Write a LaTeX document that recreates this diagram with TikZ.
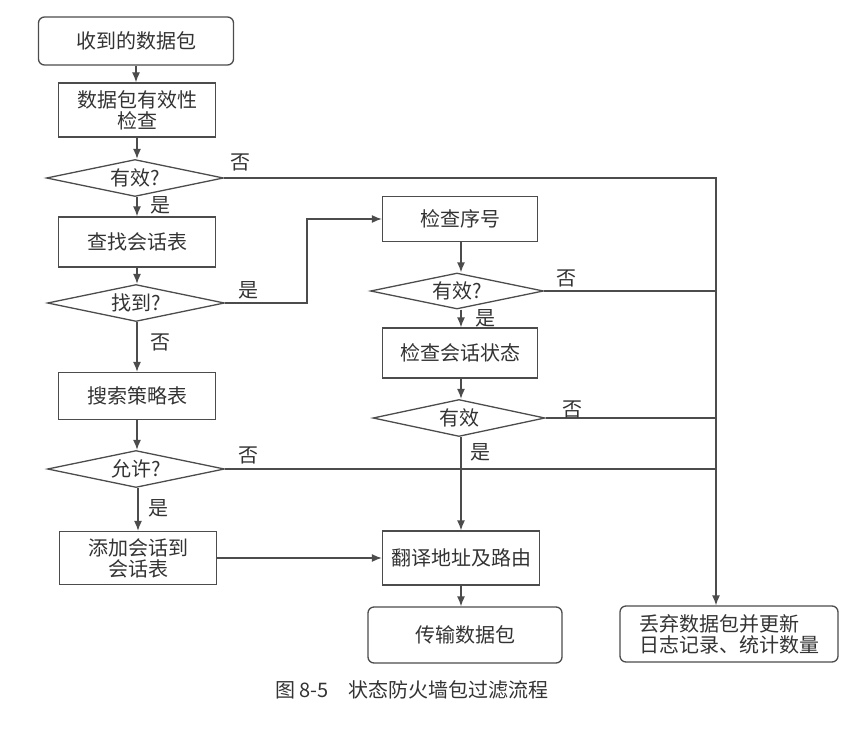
\documentclass[tikz,border=0pt]{standalone}
\usepackage{fontspec}
\setmainfont{Noto Sans CJK SC}
\usepackage{tikz}
\usetikzlibrary{arrows.meta,shapes.geometric}

\begin{document}
\begin{tikzpicture}[x=1pt,y=-1pt,
    >={Latex[length=10pt,width=8pt]},
    every node/.style={font=\fontsize{20}{24}\selectfont,text=black!80},
    procbox/.style={draw=black!70,line width=1.3pt,minimum width=157pt,minimum height=50pt,align=center,inner sep=2pt},
    endbox/.style={procbox,rounded corners=6pt},
    decide/.style={draw=black!70,line width=1.3pt,diamond,aspect=4.8,minimum width=177pt,minimum height=37pt,inner sep=0pt},
    flow/.style={->,draw=black!70,line width=1.3pt}]
    \useasboundingbox (0,0) rectangle (858,730);
    % Left column
    \node[endbox,minimum width=195pt,minimum height=48pt] (recv) at (136,41) {收到的数据包};
    \node[procbox,minimum height=54pt] (check) at (137,110) {数据包有效性\\[-3pt]检查};
    \node[decide] (valid) at (135,178) {有效?};
    \node[procbox] (lookup) at (137,242) {查找会话表};
    \node[decide] (found) at (136,303) {找到?};
    \node[procbox,minimum height=47pt] (policy) at (137,396) {搜索策略表};
    \node[decide] (allow) at (136,469) {允许?};
    \node[procbox,minimum height=53pt] (add) at (138,558) {添加会话到\\[-3pt]会话表};
    % Middle column
    \node[procbox,minimum width=155pt,minimum height=45pt] (seq) at (460,219) {检查序号};
    \node[decide,minimum width=173pt,minimum height=36pt] (seqok) at (457,291) {有效?};
    \node[procbox,minimum width=155pt] (state) at (460,353) {检查会话状态};
    \node[decide,minimum width=172pt] (stateok) at (459,418) {有效};
    \node[procbox,minimum height=54pt] (route) at (461,558) {翻译地址及路由};
    \node[endbox,minimum width=194pt,minimum height=56pt] (send) at (465,635) {传输数据包};
    % Right column
    \node[endbox,minimum width=218pt,minimum height=56pt,align=left,inner xsep=8pt] (drop) at (729,634)
        {丢弃数据包并更新\\[-3pt]日志记录、统计数量};
    \coordinate (bus) at (716,0);
    \coordinate (jog) at (307,0);
    % Main flow
    \draw[flow] (recv) -- (recv.south |- check.north);
    \draw[flow] (check) -- (check.south |- valid.north);
    \draw[flow] (valid.south -| lookup) -- (lookup.north);
    \draw[flow] (lookup) -- (lookup.south |- found.north);
    \draw[flow] (found.south -| policy) -- (policy.north);
    \draw[flow] (policy) -- (policy.south |- allow.north);
    \draw[flow] (allow.south -| add) -- (add.north);
    \draw[flow] (found.east) -- (found.east -| jog) |- (seq.west);
    \draw[flow] (seq.south -| route) -- (seqok.north -| route);
    \draw[flow] (seqok.south -| route) -- (state.north -| route);
    \draw[flow] (state.south -| route) -- (stateok.north -| route);
    \draw[flow] (stateok.south -| route) -- (route.north);
    \draw[flow] (add.east) -- (route.west);
    \draw[flow] (route.south) -- (route.south |- send.north);
    % Reject lines
    \draw[flow] (valid.east) -| (bus |- drop.north);
    \draw[flow,-] (seqok.east) -- (seqok.east -| bus);
    \draw[flow,-] (stateok.east) -- (stateok.east -| bus);
    \draw[flow,-] (allow.east) -- (allow.east -| bus);
    % Labels
    \node (l1) at (240,162) {否};
    \node (l2) at (160,205) {是};
    \node (l3) at (248,290) {是};
    \node (l4) at (160,342) {否};
    \node (l5) at (248,455) {否};
    \node (l6) at (158,508) {是};
    \node (l7) at (566,278) {否};
    \node (l8) at (485,318) {是};
    \node (l9) at (572,409) {否};
    \node (l10) at (480,452) {是};
    % Caption
    \node (cap) at (412,690) {图 8-5\hspace{1em}状态防火墙包过滤流程};
\end{tikzpicture}
\end{document}
